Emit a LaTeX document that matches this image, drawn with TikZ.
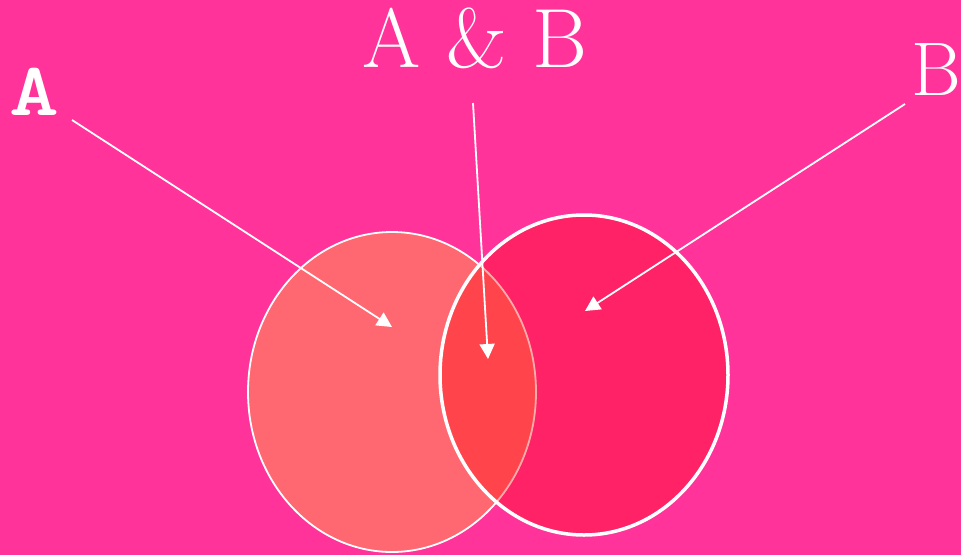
\documentclass[tikz,border=0pt]{standalone}
\usetikzlibrary{arrows.meta,shapes.geometric}
\definecolor{bgpink}{RGB}{255,51,153}
\definecolor{lefill}{RGB}{255,104,112}
\tikzset{
  lbl/.style={text=white,inner sep=0pt,anchor=base},
  setA/.style={ellipse,fill=lefill,draw=white,line width=1.8pt,minimum width=288pt,minimum height=320pt,inner sep=0pt},
  setB/.style={ellipse,fill=red,fill opacity=0.33,draw=white,draw opacity=1,line width=3.5pt,minimum width=288pt,minimum height=320pt,inner sep=0pt},
  pointer/.style={draw=white,line width=1.8pt,-{Triangle[length=15pt,width=15pt]}}
}
\begin{document}
\begin{tikzpicture}[x=1pt,y=-1pt]
\fill[bgpink] (0,0) rectangle (961,555);
\useasboundingbox (0,0) rectangle (961,555);
\node[setA] (ea) at (392,392) {};
\node[setB] (eb) at (584,375) {};
\node[lbl,font=\ttfamily\bfseries\fontsize{76}{76}\selectfont,xscale=1.25] (ta) at (34,115) {A};
\node[lbl,font=\fontsize{84}{84}\selectfont] (tab) at (475,67) {A \& B};
\node[lbl,font=\fontsize{76}{76}\selectfont] (tb) at (936,95) {B};
\coordinate (sa) at (72,120);
\coordinate (pa) at (392,327);
\coordinate (sab) at (473,103);
\coordinate (pab) at (488,359);
\coordinate (sb) at (905,104);
\coordinate (pb) at (585,311);
\draw[pointer] (sa) -- (pa);
\draw[pointer] (sab) -- (pab);
\draw[pointer] (sb) -- (pb);
\end{tikzpicture}
\end{document}
